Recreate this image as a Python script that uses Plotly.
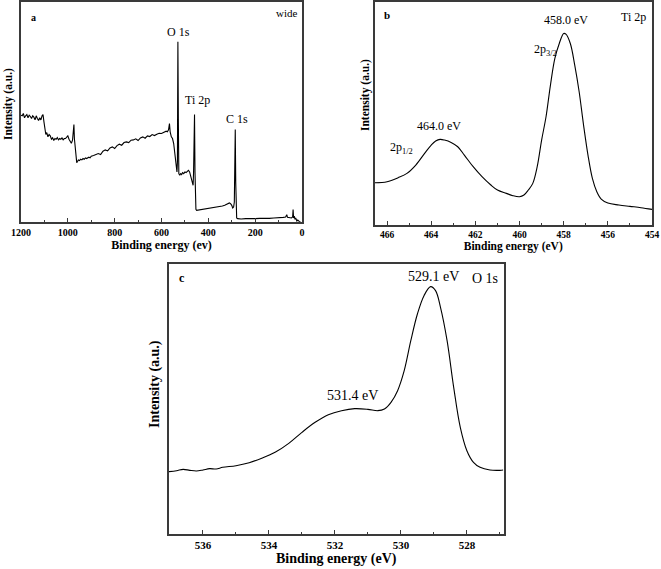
import plotly.graph_objects as go

# ---------------- data ----------------
# Panel a: wide survey
wide_energy = [1200, 1195, 1190, 1185, 1180, 1175, 1170, 1165, 1160, 1155, 1150, 1145, 1140, 1135, 1130,
               1125, 1120, 1115, 1110, 1106, 1102, 1098, 1094, 1090, 1085, 1080, 1075, 1070, 1065, 1060,
               1055, 1050, 1045, 1040, 1035, 1030, 1025, 1020, 1015, 1010, 1005, 1000, 995, 990, 985,
               980, 976, 974, 972, 969, 965, 962, 958, 955, 950, 945, 940, 935, 930, 925, 920, 915,
               910, 905, 900, 890, 880, 870, 860, 850, 840, 830, 820, 810, 800, 790, 780, 770, 760,
               750, 740, 730, 720, 710, 700, 690, 680, 670, 660, 650, 640, 630, 620, 610, 600, 590,
               580, 575, 570, 566, 563, 558, 553, 548, 544, 541, 537, 534, 532, 530, 528, 526, 522,
               518, 514, 510, 505, 500, 495, 490, 485, 480, 476, 472, 468, 465, 463, 461, 459, 457,
               455, 453, 450, 440, 430, 420, 410, 400, 390, 380, 370, 360, 350, 340, 330, 320, 310,
               305, 300, 296, 292, 289, 287, 285, 283, 281, 279, 275, 260, 240, 220, 200, 180, 160,
               140, 120, 100, 80, 70, 65, 62, 55, 45, 40, 38, 36, 33, 30, 27, 22, 18, 12, 8, 2]
wide_intensity = [320, 318, 325, 312, 318, 322, 312, 320, 316, 310, 318, 314, 306, 318, 310,
                  304, 312, 306, 318, 322, 300, 272, 262, 268, 255, 262, 258, 248, 252, 244,
                  250, 248, 253, 246, 250, 248, 252, 246, 250, 250, 255, 258, 248, 240, 236,
                  245, 278, 292, 250, 220, 190, 178, 182, 186, 184, 188, 186, 190, 188, 192, 190, 193,
                  194, 192, 197, 199, 203, 205, 202, 212, 216, 213, 222, 225, 220, 229, 233, 230, 238,
                  240, 238, 245, 246, 249, 244, 252, 255, 251, 258, 256, 262, 259, 263, 266, 265, 268,
                  272, 270, 276, 295, 270, 255, 250, 235, 215, 195, 170, 150, 180, 540, 300, 145, 140,
                  145, 142, 148, 145, 150, 148, 152, 155, 150, 140, 135, 125, 110, 150, 200, 322, 150,
                  60, 38, 35, 36, 37, 38, 40, 41, 42, 43, 44, 45, 46, 48, 50, 53, 57,
                  55, 50, 42, 45, 60, 120, 277, 120, 40, 12, 10, 9, 10, 9, 10, 11, 10,
                  11, 12, 12, 14, 15, 22, 14, 13, 12, 15, 37, 12, 18, 8, 12, 3, 6, 2, 0, -3]

# Panel b: Ti 2p
ti_energy = [466.56, 466.0, 465.5, 465.1, 464.7, 464.3, 464.0, 463.8, 463.6, 463.4, 463.1, 462.8,
             462.5, 462.1, 461.7, 461.3, 461.0, 460.6, 460.3, 460.0, 459.8, 459.6, 459.4, 459.2,
             459.0, 458.8, 458.6, 458.4, 458.2, 458.0, 457.9, 457.7, 457.5, 457.3, 457.1, 456.9,
             456.7, 456.5, 456.3, 456.0, 455.5, 455.0, 454.5, 454.0]
ti_intensity = [127, 130, 142, 155, 180, 215, 240, 252, 257, 255, 248, 235,
                210, 175, 145, 120, 105, 95, 88, 85, 90, 105, 125, 175,
                255, 325, 420, 500, 545, 575, 573, 545, 480, 400, 300, 210,
                140, 100, 78, 66, 60, 56, 52, 47]

# Panel c: O 1s
o_energy = [537.03, 536.8, 536.6, 536.4, 536.2, 536.0, 535.8, 535.6, 535.4, 535.0, 534.6, 534.2,
            533.8, 533.4, 533.0, 532.6, 532.2, 531.8, 531.4, 531.0, 530.7, 530.5, 530.3, 530.1,
            529.9, 529.7, 529.5, 529.3, 529.1, 528.95, 528.8, 528.6, 528.4, 528.2, 528.0, 527.8,
            527.6, 527.3, 527.0, 526.9]
o_intensity = [187, 190, 194, 191, 189, 192, 196, 195, 200, 205, 214, 228,
               246, 272, 305, 335, 358, 370, 376, 374, 370, 375, 395, 430,
               490, 580, 660, 715, 742, 730, 680, 580, 440, 320, 250, 215,
               200, 192, 191, 192]

a_ticks = [1200, 1000, 800, 600, 400, 200, 0]
b_ticks = [466, 464, 462, 460, 458, 456, 454]
c_ticks = [536, 534, 532, 530, 528]

# ---------------- figure ----------------
W, H = 661, 569
FONT = "Liberation Serif"
FRAME = "#3a3a3a"

def px(x):
    return x / W

def py(y):
    return 1 - y / H

fig = go.Figure()
fig.add_trace(go.Scatter(x=wide_energy, y=wide_intensity, mode="lines",
                         line=dict(color="black", width=1.1), xaxis="x", yaxis="y"))
fig.add_trace(go.Scatter(x=ti_energy, y=ti_intensity, mode="lines", line_shape="spline",
                         line=dict(color="black", width=1.1), xaxis="x2", yaxis="y2"))
fig.add_trace(go.Scatter(x=o_energy, y=o_intensity, mode="lines", line_shape="spline",
                         line=dict(color="black", width=1.1), xaxis="x3", yaxis="y3"))

def xaxis(dom, rng, ticks, dtick_minor, title, fsize, tsize, anchor, standoff):
    return dict(domain=dom, range=rng, tickvals=ticks, anchor=anchor, automargin=False,
                ticks="inside", ticklen=4, tickwidth=1, tickcolor=FRAME,
                minor=dict(ticks="inside", ticklen=2, dtick=dtick_minor, tickcolor=FRAME),
                showline=True, linecolor=FRAME, linewidth=1.5, mirror=True,
                showgrid=False, zeroline=False,
                tickfont=dict(family=FONT, size=tsize, color="black", weight="bold"),
                title=dict(text=title, font=dict(family=FONT, size=fsize, color="black", weight="bold"),
                           standoff=standoff))

def yaxis(dom, rng, anchor):
    return dict(domain=dom, range=rng, anchor=anchor, showticklabels=False, ticks="",
                automargin=False,
                showline=True, linecolor=FRAME, linewidth=1.5, mirror=True,
                showgrid=False, zeroline=False)

fig.update_layout(
    width=W, height=H, margin=dict(l=0, r=0, t=0, b=0),
    paper_bgcolor="white", plot_bgcolor="white", showlegend=False,
    xaxis=xaxis([px(21), px(302)], [1200, 0], a_ticks, 100, "Binding energy (ev)", 12, 10, "y", 2),
    yaxis=yaxis([py(222), py(2)], [0, 659], "x"),
    xaxis2=xaxis([px(374.5), px(652)], [466.57, 454], b_ticks, 1, "Binding energy (eV)", 11.5, 9.5, "y2", 2),
    yaxis2=yaxis([py(225), py(1.5)], [0, 671], "x2"),
    xaxis3=xaxis([px(169), px(503.5)], [537.03, 526.89], c_ticks, 1, "Binding energy (eV)", 14, 11, "y3", 1),
    yaxis3=yaxis([py(534), py(264)], [0, 810], "x3"),
)

ann = []
def add(text, x, y, size, bold=False, xanchor="center", angle=0):
    ann.append(dict(text=text, x=px(x), y=py(y), xref="paper", yref="paper", showarrow=False,
                    xanchor=xanchor, yanchor="middle", textangle=angle,
                    font=dict(family=FONT, size=size, color="black", weight="bold" if bold else "normal")))

# y titles
add("Intensity (a.u.)", 8, 104, 11.5, bold=True, angle=-90)
add("Intensity (a.u.)", 365, 95, 11.5, bold=True, angle=-90)
add("Intensity (a.u.)", 155, 384, 14, bold=True, angle=-90)

# panel a
add("a", 33, 17, 10, bold=True)
add("wide", 287, 13, 11)
add("O 1s", 178, 32, 12)
add("Ti 2p", 197, 100, 12)
add("C 1s", 237, 119, 12)
# panel b
add("b", 387, 15, 11, bold=True)
add("Ti 2p", 633, 17, 12)
add("458.0 eV", 566, 20, 12)
add("2p<sub>3/2</sub>", 545, 50, 12)
add("464.0 eV", 439, 126, 12)
add("2p<sub>1/2</sub>", 402, 148, 12)
# panel c
add("c", 182, 278, 12, bold=True)
add("529.1 eV", 433, 277, 14)
add("O 1s", 485, 278, 14)
add("531.4 eV", 352, 395, 14)

fig.update_layout(annotations=ann)
fig.write_html("out.html", config={"displayModeBar": False},
               post_script="document.body.style.margin='0px';")
